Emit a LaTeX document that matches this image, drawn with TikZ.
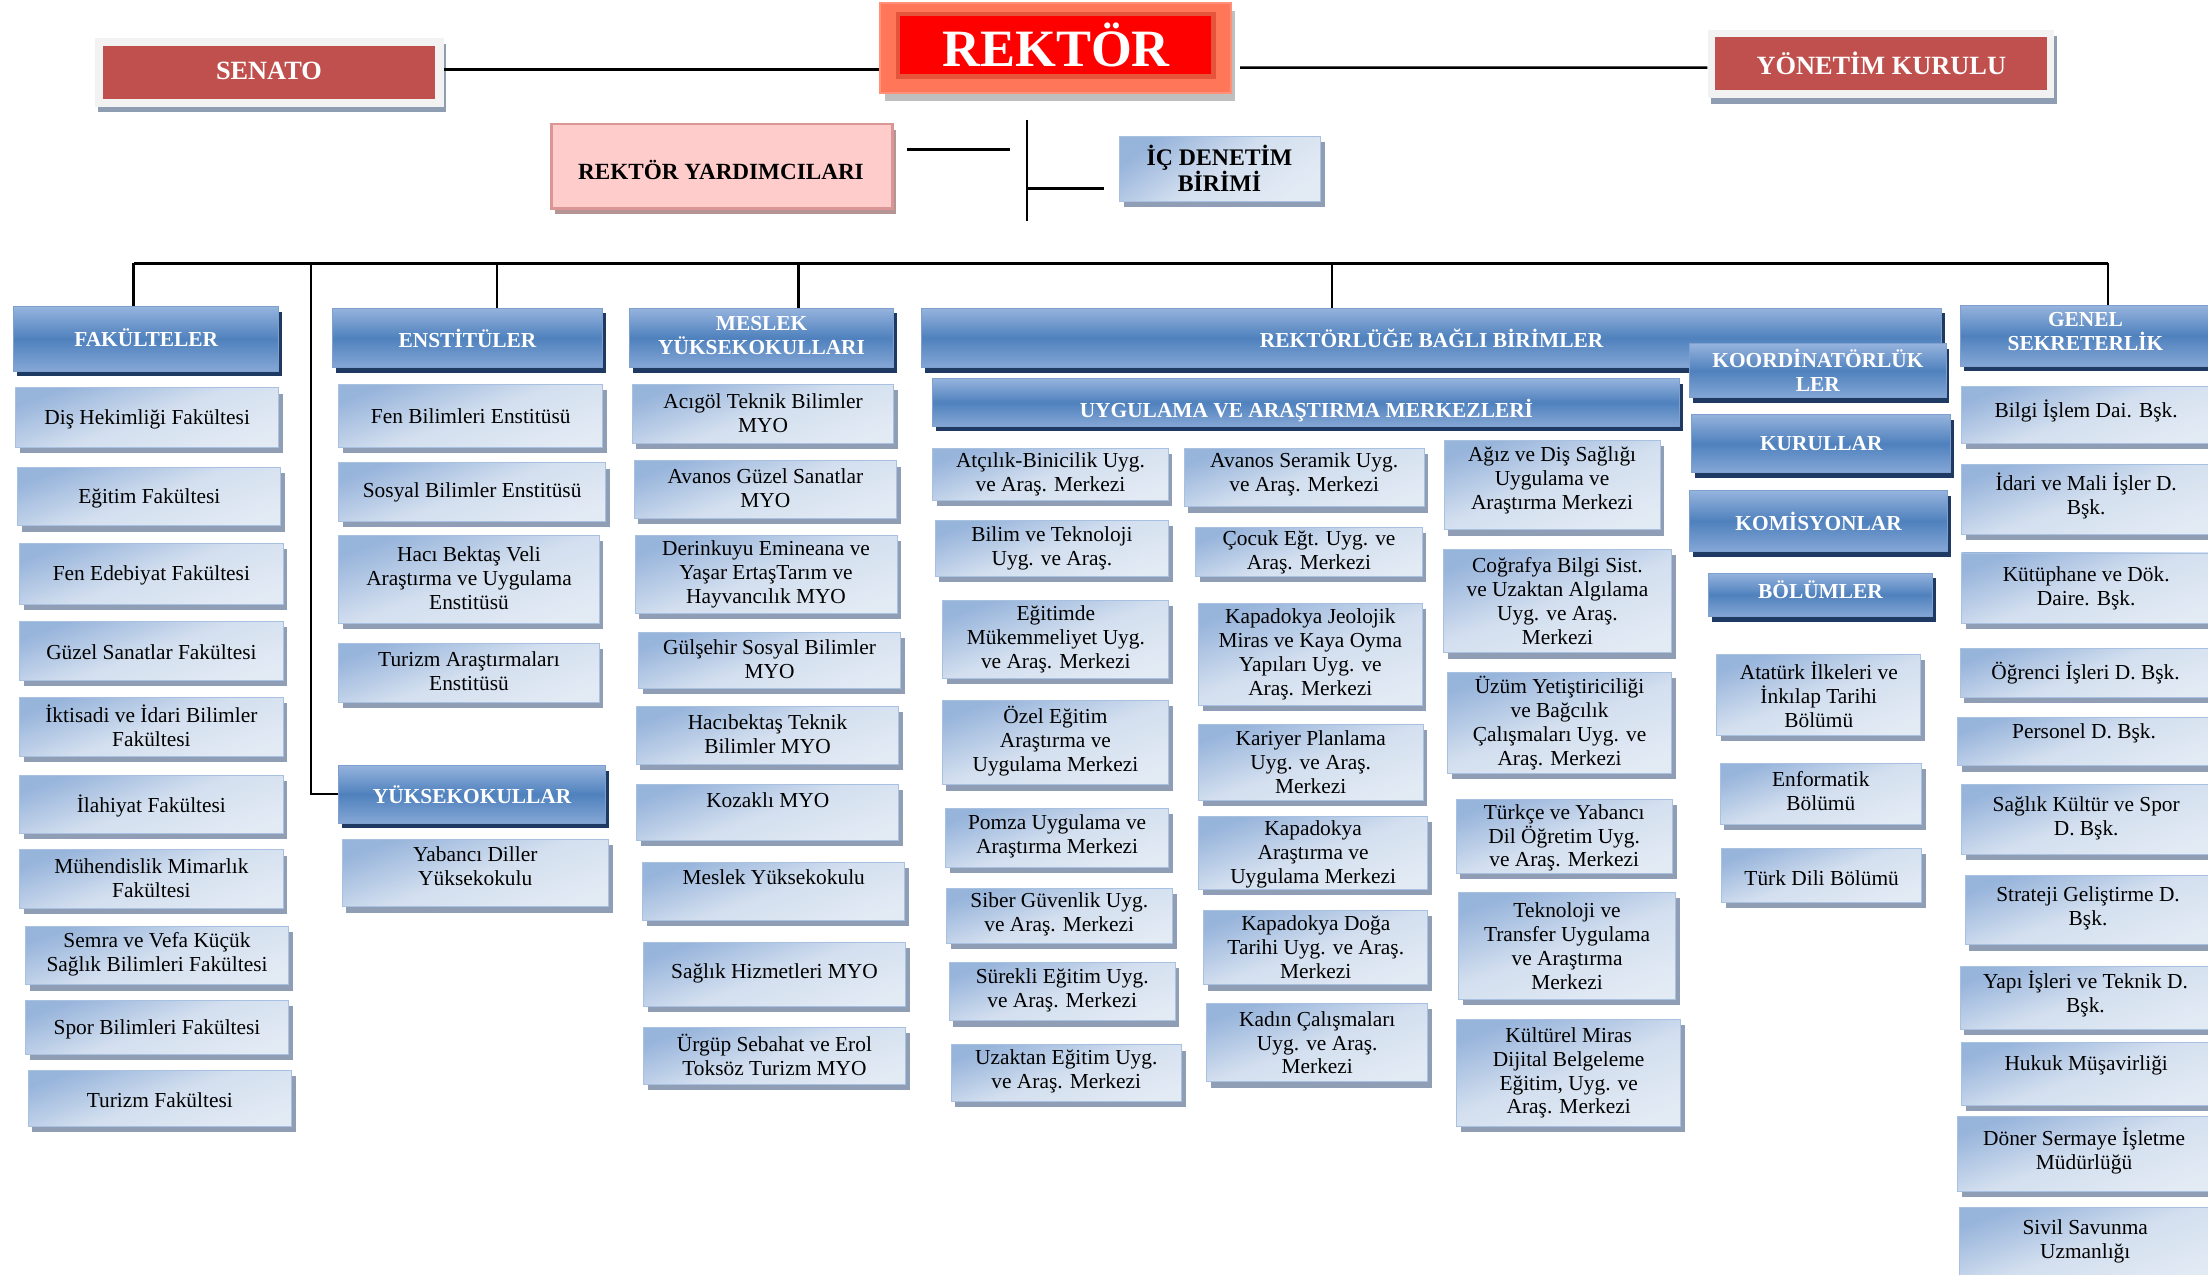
\documentclass[tikz,border=0pt]{standalone}
\usepackage{fontspec}
\setmainfont{Liberation Serif}
\usetikzlibrary{shadows}
\definecolor{itemtop}{HTML}{97B4DB}
\definecolor{itemmid}{HTML}{D3DFEF}
\definecolor{itembot}{HTML}{E2EAF4}
\definecolor{itemborder}{HTML}{A9C1E1}
\definecolor{itemshadow}{HTML}{8F9DB5}
\definecolor{headtop}{HTML}{95B3DD}
\definecolor{headmid}{HTML}{4F81BD}
\definecolor{headbot}{HTML}{85A7D6}
\definecolor{headborder}{HTML}{7FA0CF}
\definecolor{headshadow}{HTML}{1E3A62}
\definecolor{senred}{HTML}{C0504D}
\definecolor{framegrey}{HTML}{F2F2F2}
\definecolor{frameshadow}{HTML}{8F9DB2}
\definecolor{pinkfill}{HTML}{FFCCCC}
\definecolor{pinkborder}{HTML}{DA9694}
\definecolor{pinkshadow}{HTML}{B49494}
\definecolor{rekouter}{HTML}{FF7658}
\definecolor{rekbevel}{HTML}{E5543B}
\definecolor{rekred}{HTML}{FF0000}
\tikzset{
 item/.style={draw=itemborder, line width=0.5pt, top color=itemtop, bottom color=itembot, middle color=itemmid, shading angle=20, inner sep=0pt,
   drop shadow={shadow xshift=0.075cm, shadow yshift=-0.1cm, fill=itemshadow, opacity=1}},
 item text/.style={align=center, inner sep=0pt, font=\fontsize{10.8}{12.1}\selectfont, text=black},
 head/.style={draw=headborder, line width=0.5pt, top color=headtop, bottom color=headbot, middle color=headmid, inner sep=0pt,
   drop shadow={shadow xshift=0.06cm, shadow yshift=-0.09cm, fill=headshadow, opacity=1}},
 head text/.style={align=center, inner sep=0pt, font=\bfseries\fontsize{10.8}{12.1}\selectfont, text=white},
 conn/.style={line width=1.3pt, black},
 thinconn/.style={line width=0.8pt, black},
}
\newcommand{\ibox}[8]{%
 \pgfmathsetmacro\bw{(#5-#3-2)*0.025}%
 \pgfmathsetmacro\bh{(#6-#4-2)*0.025}%
 \pgfmathsetmacro\cx{(#3+#5-2)/2}%
 \pgfmathsetmacro\cy{(#4+#6-2)/2}%
 \node[#1, minimum width=\bw cm, minimum height=\bh cm] (#2) at (\cx,\cy) {};
 \node[#1 text] (#2t) at (\cx,\cy+#7) {#8};}
\begin{document}
\begin{tikzpicture}[x=0.025cm, y=-0.025cm]
\useasboundingbox (0,0) rectangle (1568,905.4);
\clip (0,0) rectangle (1568,905.4);

% ---------- top level ----------
\node[fill=framegrey, minimum width=6.19cm, minimum height=1.215cm, inner sep=0pt,
  drop shadow={shadow xshift=0.05cm, shadow yshift=-0.1cm, fill=frameshadow, opacity=1}] (senato) at (191.2,51.5) {};
\node[fill=senred, minimum width=5.895cm, minimum height=0.935cm, inner sep=0pt] (senatoin) at (191.1,51.4) {};
\node[text=white, font=\bfseries\fontsize{13.3}{15}\selectfont, inner sep=0pt] (senatot) at (191,50) {SENATO};

\node[fill=framegrey, minimum width=6.15cm, minimum height=1.21cm, inner sep=0pt,
  drop shadow={shadow xshift=0.05cm, shadow yshift=-0.1cm, fill=frameshadow, opacity=1}] (yk) at (1335.8,45.5) {};
\node[fill=senred, minimum width=5.9cm, minimum height=0.935cm, inner sep=0pt] (ykin) at (1335.8,45.2) {};
\node[text=white, font=\bfseries\fontsize{13.3}{15}\selectfont, inner sep=0pt] (ykt) at (1336,45) {YÖNETİM KURULU};

\node[fill=rekouter, draw=rekouter!80!white, line width=1pt, minimum width=6.22cm, minimum height=1.61cm, inner sep=0pt,
  drop shadow={shadow xshift=0.08cm, shadow yshift=-0.14cm, fill=black, opacity=0.25}] (rektor) at (749.6,34.1) {};
\node[fill=rekred, draw=rekbevel, line width=2.2pt, minimum width=5.6cm, minimum height=1.11cm, inner sep=0pt] (rektorin) at (749.7,32.2) {};
\node[text=white, font=\bfseries\fontsize{26.5}{30}\selectfont, inner sep=0pt] (rektort) at (750,32) {REKTÖR};

\node[fill=pinkfill, draw=pinkborder, line width=1.4pt, minimum width=6.05cm, minimum height=1.5cm, inner sep=0pt,
  drop shadow={shadow xshift=0.06cm, shadow yshift=-0.1cm, fill=pinkshadow, opacity=1}] (ry) at (512.5,118) {};
\node[text=black, font=\bfseries\fontsize{11.7}{13}\selectfont, inner sep=0pt] (ryt) at (512,121) {REKTÖR YARDIMCILARI};

\node[item, minimum width=3.56cm, minimum height=1.155cm, shading angle=35] (icd) at (866.5,120) {};
\node[align=center, inner sep=0pt, font=\bfseries\fontsize{12}{13.5}\selectfont] (icdt) at (866,119.5) {İÇ DENETİM\\BİRİMİ};

\draw[conn] (senato.east) ++(0,-2) -- (rektor.west |- 0,49.5);
\draw[conn, shorten <=0.15cm] (yk.west -| rektor.east) ++(0,2.5) -- ([yshift=-0.0625cm]yk.west);
\coordinate (ryl) at (644,106);
\coordinate (ryr) at (717.5,106);
\draw[conn] (ryl) -- (ryr);
\coordinate (vt) at (729,85);
\coordinate (vb) at (729,157);
\draw[line width=1pt] (vt) -- (vb);
\coordinate (vm) at (729,134);
\draw[conn, shorten >=0.27cm] (vm) -- (vm -| icd.west);

% ---------- headers ----------
\ibox{head}{fakh}{9.6}{217.8}{200}{265.6}{-1}{FAKÜLTELER}
\ibox{head}{ensh}{236}{219}{430}{263}{0}{ENSTİTÜLER}
\ibox{head}{yskh}{240.6}{543.6}{432}{586.5}{0}{YÜKSEKOKULLAR}
\ibox{head}{myoh}{446.9}{219}{636.8}{263}{-2}{MESLEK\\YÜKSEKOKULLARI}
\ibox{head}{rbb}{654.4}{219}{1381}{263}{0}{REKTÖRLÜĞE BAĞLI BİRİMLER}
\ibox{head}{uam}{662.5}{268.8}{1195}{304.8}{6}{UYGULAMA VE ARAŞTIRMA MERKEZLERİ}
\ibox{head}{koord}{1200}{244}{1384}{284.5}{0}{KOORDİNATÖRLÜK\\LER}
\ibox{head}{kur}{1201.4}{294.4}{1387.3}{337.7}{0}{KURULLAR}
\ibox{head}{kom}{1200}{348.5}{1385}{393.6}{0}{KOMİSYONLAR}
\ibox{head}{bol}{1213.3}{407}{1374.3}{440}{-4}{BÖLÜMLER}
\ibox{head}{gsh}{1392}{217}{1572}{262}{-3}{GENEL\\SEKRETERLİK}

% ---------- bus ----------
\coordinate (bL) at (95,187);
\coordinate (bR) at (1497,187);
\coordinate (bY) at (221,187);
\coordinate (bE) at (353,187);
\coordinate (bM) at (567,187);
\coordinate (bB) at (946,187);
\draw[conn] (bL) -- (bR);
\draw[conn] (bL) -- (bL |- fakh.north);
\draw[conn] (bE) -- (bE |- ensh.north);
\draw[conn] (bM) -- (bM |- myoh.north);
\draw[conn] (bB) -- (bB |- rbb.north);
\draw[conn] (bR) -- (bR |- gsh.north);
\draw[thinconn] (bY) |- (yskh.west);

% ---------- fakulteler ----------
\ibox{item}{f1}{11}{275.5}{200}{319.7}{1}{Diş Hekimliği Fakültesi}
\ibox{item}{f2}{12.5}{331.8}{201.5}{375.5}{1}{Eğitim Fakültesi}
\ibox{item}{f3}{14}{386}{203}{431}{1}{Fen Edebiyat Fakültesi}
\ibox{item}{f4}{14}{441.3}{203}{485}{1}{Güzel Sanatlar Fakültesi}
\ibox{item}{f5}{14}{495.4}{203}{539}{-1}{İktisadi ve İdari Bilimler\\Fakültesi}
\ibox{item}{f6}{14}{550.4}{203}{594}{1}{İlahiyat Fakültesi}
\ibox{item}{f7}{14}{603.6}{203}{647.3}{-1}{Mühendislik Mimarlık\\Fakültesi}
\ibox{item}{f8}{18}{657.6}{207}{701.4}{-1}{Semra ve Vefa Küçük\\Sağlık Bilimleri Fakültesi}
\ibox{item}{f9}{18}{710.4}{207}{751}{1}{Spor Bilimleri Fakültesi}
\ibox{item}{f10}{20}{760}{209}{802}{1}{Turizm Fakültesi}

% ---------- enstituler ----------
\ibox{item}{e1}{240.6}{273}{430}{319.7}{0}{Fen Bilimleri Enstitüsü}
\ibox{item}{e2}{240.6}{328.7}{432}{372.4}{0}{Sosyal Bilimler Enstitüsü}
\ibox{item}{e3}{240.6}{380.5}{427.5}{444.5}{-1}{Hacı Bektaş Veli\\Araştırma ve Uygulama\\Enstitüsü}
\ibox{item}{e4}{240.6}{456.7}{427.5}{500.8}{-1}{Turizm Araştırmaları\\Enstitüsü}
\ibox{item}{y1}{243}{596.4}{434}{646}{-5}{Yabancı Diller\\Yüksekokulu}

% ---------- MYO ----------
\ibox{item}{m1}{448.9}{273.3}{636.8}{317}{-1}{Acıgöl Teknik Bilimler\\MYO}
\ibox{item}{m2}{450.3}{327.3}{638.7}{370.1}{-1}{Avanos Güzel Sanatlar\\MYO}
\ibox{item}{m3}{451}{380.5}{639}{437.8}{0}{Derinkuyu Emineana ve\\Yaşar ErtaşTarım ve\\Hayvancılık MYO}
\ibox{item}{m4}{453.4}{449}{641.6}{491}{-1}{Gülşehir Sosyal Bilimler\\MYO}
\ibox{item}{m5}{451.7}{501.7}{640.4}{545}{-1}{Hacıbektaş Teknik\\Bilimler MYO}
\ibox{item}{m6}{452}{557}{640.4}{599}{-9}{Kozaklı MYO}
\ibox{item}{m7}{456.5}{612.6}{644.4}{655.4}{-10}{Meslek Yüksekokulu}
\ibox{item}{m8}{457}{669}{645}{717}{-1}{Sağlık Hizmetleri MYO}
\ibox{item}{m9}{457}{729.8}{645}{772.2}{-1}{Ürgüp Sebahat ve Erol\\Toksöz Turizm MYO}

% ---------- UAM col a ----------
\ibox{item}{a1}{662.5}{318.3}{831.5}{357.5}{0}{Atçılık-Binicilik Uyg.\\ve Araş. Merkezi}
\ibox{item}{a2}{664}{369.3}{832}{411.6}{0}{Bilim ve Teknoloji\\Uyg. ve Araş.}
\ibox{item}{a3}{669.6}{426.5}{832}{483.7}{0}{Eğitimde\\Mükemmeliyet Uyg.\\ve Araş. Merkezi}
\ibox{item}{a4}{669}{497.2}{832}{559.4}{-1}{Özel Eğitim\\Araştırma ve\\Uygulama Merkezi}
\ibox{item}{a5}{671.4}{573.8}{832}{618}{-1}{Pomza Uygulama ve\\Araştırma Merkezi}
\ibox{item}{a6}{672}{630.6}{834.5}{672}{-1}{Siber Güvenlik Uyg.\\ve Araş. Merkezi}
\ibox{item}{a7}{674}{683.4}{836.6}{727}{-1}{Sürekli Eğitim Uyg.\\ve Araş. Merkezi}
\ibox{item}{a8}{675.5}{742}{840.9}{783.9}{-1}{Uzaktan Eğitim Uyg.\\ve Araş. Merkezi}

% ---------- UAM col b ----------
\ibox{item}{b1}{840.9}{318.3}{1013.4}{362}{-2}{Avanos Seramik Uyg.\\ve Araş. Merkezi}
\ibox{item}{b2}{849.2}{374.7}{1012}{411.6}{0}{Çocuk Eğt. Uyg. ve\\Araş. Merkezi}
\ibox{item}{b3}{851}{428.7}{1012}{503}{0}{Kapadokya Jeolojik\\Miras ve Kaya Oyma\\Yapıları Uyg. ve\\Araş. Merkezi}
\ibox{item}{b4}{851}{514.4}{1012.6}{570.7}{0}{Kariyer Planlama\\Uyg. ve Araş.\\Merkezi}
\ibox{item}{b5}{851}{579.7}{1016}{633.8}{1}{Kapadokya\\Araştırma ve\\Uygulama Merkezi}
\ibox{item}{b6}{854.8}{646.4}{1016}{701.4}{0}{Kapadokya Doğa\\Tarihi Uyg. ve Araş.\\Merkezi}
\ibox{item}{b7}{856.9}{712.6}{1016}{770.3}{0}{Kadın Çalışmaları\\Uyg. ve Araş.\\Merkezi}

% ---------- UAM col c ----------
\ibox{item}{c1}{1025.5}{312.5}{1180.9}{378.3}{-3}{Ağız ve Diş Sağlığı\\Uygulama ve\\Araştırma Merkezi}
\ibox{item}{c2}{1025}{390.4}{1189}{465.7}{0}{Coğrafya Bilgi Sist.\\ve Uzaktan Algılama\\Uyg. ve Araş.\\Merkezi}
\ibox{item}{c3}{1028}{477.4}{1189}{551.3}{0}{Üzüm Yetiştiriciliği\\ve Bağcılık\\Çalışmaları Uyg. ve\\Araş. Merkezi}
\ibox{item}{c4}{1034}{567.5}{1189.6}{622.5}{1}{Türkçe ve Yabancı\\Dil Öğretim Uyg.\\ve Araş. Merkezi}
\ibox{item}{c5}{1035.7}{633.8}{1192}{711.7}{0}{Teknoloji ve\\Transfer Uygulama\\ve Araştırma\\Merkezi}
\ibox{item}{c6}{1034.5}{723.9}{1195.5}{801.9}{0}{Kültürel Miras\\Dijital Belgeleme\\Eğitim, Uyg. ve\\Araş. Merkezi}

% ---------- bolumler ----------
\ibox{item}{d1}{1219.2}{464.8}{1366}{524.3}{0}{Atatürk İlkeleri ve\\İnkılap Tarihi\\Bölümü}
\ibox{item}{d2}{1221.6}{542.3}{1366.5}{587.4}{-2}{Enformatik\\Bölümü}
\ibox{item}{d3}{1222.8}{602.2}{1366.5}{642.8}{2}{Türk Dili Bölümü}

% ---------- genel sekreterlik ----------
\ibox{item}{g1}{1393}{274.6}{1572}{317}{-3}{Bilgi İşlem Dai. Bşk.}
\ibox{item}{g2}{1393}{329.6}{1572}{381.4}{-2}{İdari ve Mali İşler D.\\Bşk.}
\ibox{item}{g3}{1393}{392.7}{1572}{444.5}{0}{Kütüphane ve Dök.\\Daire. Bşk.}
\ibox{item}{g4}{1392}{460.3}{1572}{497.2}{0}{Öğrenci İşleri D. Bşk.}
\ibox{item}{g5}{1390}{509.8}{1572}{545.9}{-6}{Personel D. Bşk.}
\ibox{item}{g6}{1393}{557.2}{1572}{609}{-1}{Sağlık Kültür ve Spor\\D. Bşk.}
\ibox{item}{g7}{1395.6}{621.6}{1572}{673}{-1}{Strateji Geliştirme D.\\Bşk.}
\ibox{item}{g8}{1392}{686.5}{1572}{733}{-3}{Yapı İşleri ve Teknik D.\\Bşk.}
\ibox{item}{g9}{1393}{740.6}{1572}{787}{-6}{Hukuk Müşavirliği}
\ibox{item}{g10}{1390}{792.9}{1572}{847.8}{-2}{Döner Sermaye İşletme\\Müdürlüğü}
\ibox{item}{g11}{1391.6}{857.8}{1572}{915}{-4}{Sivil Savunma\\Uzmanlığı}
\end{tikzpicture}
\end{document}
